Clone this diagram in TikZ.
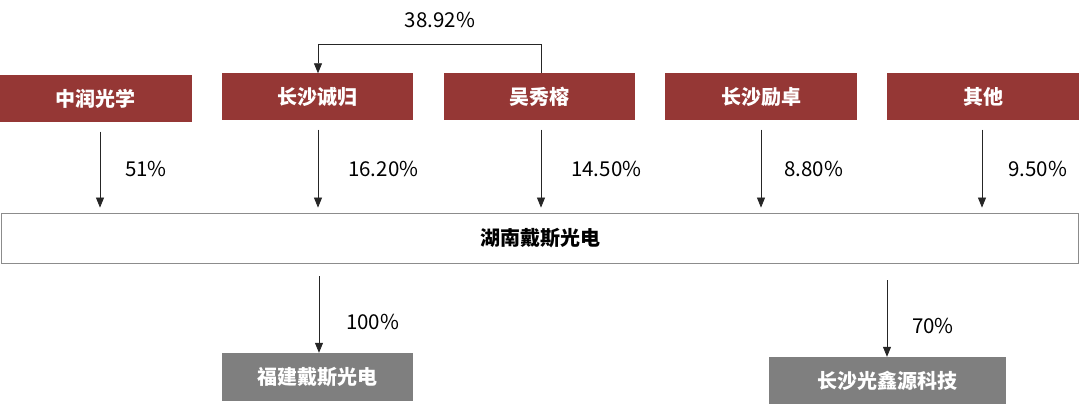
\documentclass[tikz,border=0pt]{standalone}
\usepackage{fontspec}
\setmainfont{Noto Sans CJK SC}
\usetikzlibrary{arrows.meta}
\definecolor{boxred}{HTML}{953735}
\definecolor{boxgray}{HTML}{7F7F7F}
\begin{document}
\begin{tikzpicture}[x=1pt,y=-1pt,
  redbox/.style={fill=boxred,draw=none,text=white,font=\fontsize{20}{22}\selectfont\bfseries,minimum width=192pt,minimum height=47pt,inner sep=0pt},
  graybox/.style={fill=boxgray,draw=none,text=white,font=\fontsize{20}{22}\selectfont\bfseries,inner sep=0pt},
  mainbox/.style={draw=black!45,line width=0.8pt,fill=white,font=\fontsize{20}{22}\selectfont\bfseries,minimum width=1077pt,minimum height=50pt,inner sep=0pt},
  pct/.style={font=\fontsize{20.5}{22}\selectfont,anchor=west,inner sep=0pt},
  arr/.style={draw=black!85,line width=0.8pt,-{Triangle[length=10pt,width=8pt]}}]
\useasboundingbox (0,0) rectangle (1080,406);
\node[redbox] (a) at (96,99) {中润光学};
\node[redbox,minimum width=191pt] (b) at (317.5,97) {长沙诚归};
\node[redbox,minimum width=191pt] (c) at (539.5,97) {吴秀榕};
\node[redbox,minimum width=192pt] (d) at (761,97) {长沙励卓};
\node[redbox,minimum width=192pt] (e) at (983,97) {其他};
\node[mainbox] (m) at (540,238) {湖南戴斯光电};
\node[graybox,minimum width=191pt,minimum height=48pt] (f) at (317.5,377) {福建戴斯光电};
\node[graybox,minimum width=237pt,minimum height=47pt] (g) at (887.5,380.5) {长沙光鑫源科技};
% fork
\coordinate (k1) at (541,44);
\coordinate (k2) at (318,44);
\draw[draw=black!85,line width=0.8pt] ([xshift=1.5pt]c.north) -- ([xshift=1.5pt]c.north |- k1) -- (k2);
\draw[arr] (k2) -- (k2 |- b.north);
\node[font=\fontsize{20.5}{22}\selectfont,inner sep=0pt] (t0) at (440,20) {38.92\%};
% down arrows
\draw[arr,shorten <=9pt,shorten >=5pt] ([xshift=4pt]a.south) -- ([xshift=4pt]a.south |- m.north);
\draw[arr,shorten <=9pt,shorten >=5pt] ([xshift=0.5pt]b.south) -- ([xshift=0.5pt]b.south |- m.north);
\draw[arr,shorten <=9pt,shorten >=5pt] ([xshift=1.5pt]c.south) -- ([xshift=1.5pt]c.south |- m.north);
\draw[arr,shorten <=9pt,shorten >=5pt] (d.south) -- (d.south |- m.north);
\draw[arr,shorten <=9pt,shorten >=5pt] ([xshift=-1pt]e.south) -- ([xshift=-1pt]e.south |- m.north);
\node[pct] (p1) at (125,169) {51\%};
\node[pct] (p2) at (348,169) {16.20\%};
\node[pct] (p3) at (571,169) {14.50\%};
\node[pct] (p4) at (784,169) {8.80\%};
\node[pct] (p5) at (1008,169) {9.50\%};
% bottom arrows
\draw[arr,shorten <=13pt] ([xshift=1.5pt]f.north |- m.south) -- ([xshift=1.5pt]f.north);
\draw[arr,shorten <=17pt] ([xshift=-0.5pt]g.north |- m.south) -- ([xshift=-0.5pt]g.north);
\node[pct] (p6) at (346,322) {100\%};
\node[pct] (p7) at (912,326) {70\%};
\end{tikzpicture}
\end{document}
